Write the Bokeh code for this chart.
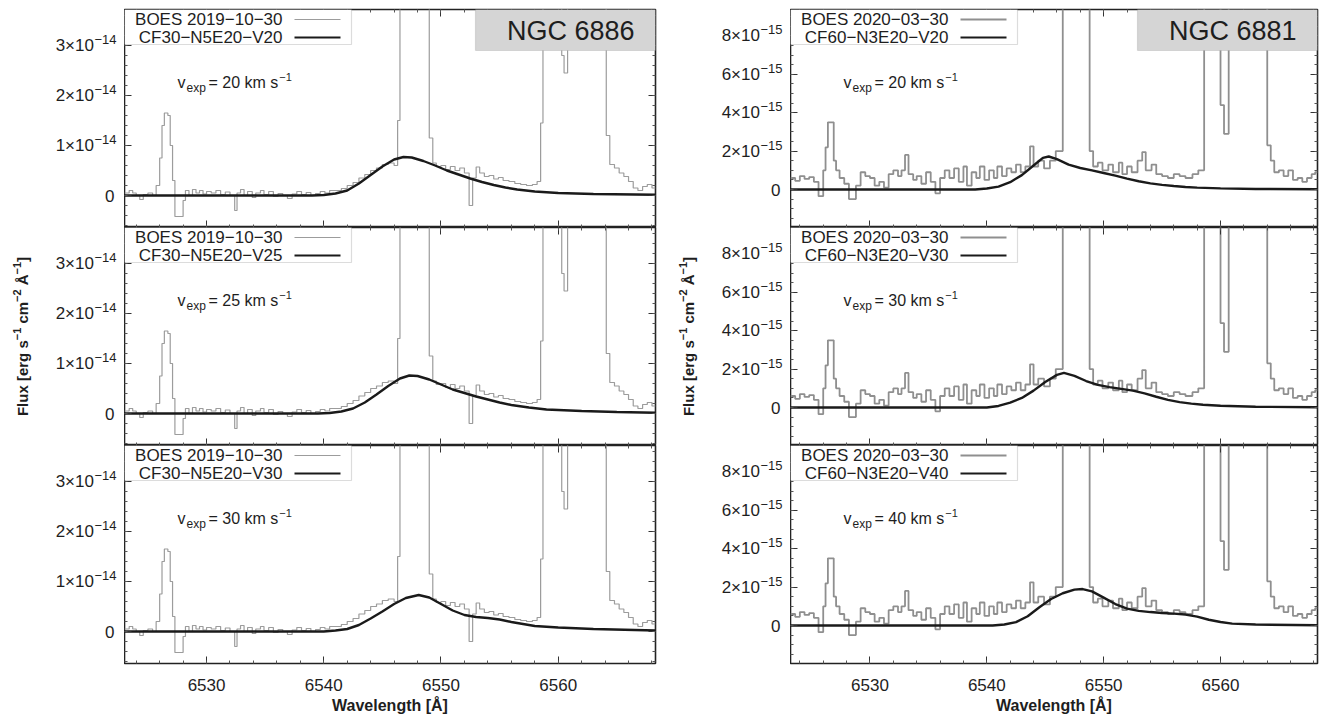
from bokeh.plotting import figure
from bokeh.models import (Range1d, LinearAxis, SingleIntervalTicker, CustomJSTickFormatter,
                          BoxAnnotation, Label, ColumnDataSource)
from bokeh.layouts import row, column
from bokeh.embed import file_html
from bokeh.resources import INLINE

# ---------------- data ----------------
# NGC 6886, BOES 2019-10-30 observed spectrum (step edges [A], flux in 1e-14 erg/s/cm2/A)
n6886_obs_wl = [6523.0, 6523.4, 6523.7, 6524.0, 6524.3, 6524.6, 6525.0, 6525.4, 6525.7, 6526.0,
                6526.2, 6526.4, 6526.7, 6526.9, 6527.1, 6527.3, 6527.7, 6528.0, 6528.2, 6528.5,
                6528.8, 6529.1, 6529.4, 6529.7, 6530.0, 6530.4, 6530.8, 6531.2, 6531.6, 6532.0,
                6532.4, 6532.6, 6532.9, 6533.2, 6533.5, 6533.9, 6534.2, 6534.6, 6534.9, 6535.3,
                6535.7, 6536.1, 6536.5, 6536.9, 6537.3, 6537.7, 6538.1, 6538.5, 6538.9, 6539.3,
                6539.7, 6540.1, 6540.5, 6541.0, 6541.5, 6542.0, 6542.5, 6543.0, 6543.5, 6544.0,
                6544.5, 6545.0, 6545.5, 6546.0, 6546.3, 6546.5, 6549.0, 6549.3, 6549.6, 6550.0,
                6550.4, 6550.8, 6551.2, 6551.6, 6552.0, 6552.4, 6552.7, 6553.0, 6553.3, 6553.7,
                6554.1, 6554.5, 6554.9, 6555.3, 6555.8, 6556.3, 6556.8, 6557.3, 6557.8, 6558.2,
                6558.5, 6558.7, 6560.3, 6560.5, 6560.8, 6564.1, 6564.4, 6564.8, 6565.2, 6565.6,
                6566.0, 6566.4, 6566.8, 6567.2, 6567.6, 6568.0, 6568.3]
n6886_obs_flux = [0.05, 0.10, 0.05, 0.0, -0.08, 0.02, 0.05, 0.0, 0.2, 0.75,
                  1.4, 1.65, 1.6, 1.0, 0.3, -0.42, -0.42, -0.1, 0.1, 0.0,
                  0.12, 0.05, 0.1, 0.03, 0.08, 0.05, 0.1, 0.02, 0.07, 0.0,
                  -0.3, 0.05, 0.12, 0.0, 0.08, -0.04, 0.05, 0.1, 0.02, 0.08,
                  -0.02, 0.04, 0.0, -0.06, 0.03, 0.08, 0.02, 0.06, 0.0, 0.04,
                  0.08, 0.05, 0.1, 0.1, 0.14, 0.2, 0.26, 0.35, 0.42, 0.5,
                  0.55, 0.62, 0.65, 0.6, 1.5, 50.0, 1.15, 0.65, 0.58, 0.6,
                  0.52, 0.58, 0.5, 0.55, 0.45, -0.2, 0.35, 0.57, 0.45, 0.38,
                  0.4, 0.33, 0.36, 0.3, 0.28, 0.24, 0.22, 0.2, 0.22, 0.28,
                  1.45, 50.0, 2.8, 2.45, 50.0, 1.2, 0.62, 0.55, 0.45, 0.38,
                  0.28, 0.15, 0.1, 0.18, 0.22, 0.15, 0.15]

# NGC 6886 models (flux in 1e-14)
n6886_v20_wl = [6523.0, 6539.0, 6540.0, 6541.0, 6542.0, 6543.0, 6544.0, 6545.0, 6546.0, 6546.8,
                6547.5, 6548.5, 6549.5, 6550.5, 6551.5, 6552.5, 6553.5, 6554.5, 6555.5, 6556.5,
                6558.0, 6560.0, 6563.0, 6568.3]
n6886_v20_flux = [0.0, 0.0, 0.01, 0.04, 0.1, 0.24, 0.41, 0.58, 0.72, 0.77,
                  0.76, 0.69, 0.6, 0.5, 0.42, 0.34, 0.27, 0.21, 0.16, 0.12,
                  0.08, 0.05, 0.03, 0.015]
n6886_v25_wl = [6523.0, 6539.5, 6540.5, 6541.5, 6542.5, 6543.5, 6544.5, 6545.5, 6546.5, 6547.3,
                6548.0, 6549.0, 6550.0, 6551.0, 6552.0, 6553.0, 6554.0, 6555.0, 6556.0, 6557.5,
                6559.0, 6562.0, 6565.0, 6568.3]
n6886_v25_flux = [0.0, 0.0, 0.01, 0.04, 0.1, 0.22, 0.38, 0.55, 0.7, 0.76,
                  0.75, 0.68, 0.58, 0.48, 0.41, 0.34, 0.28, 0.22, 0.17, 0.12,
                  0.08, 0.05, 0.03, 0.015]
n6886_v30_wl = [6523.0, 6540.0, 6541.0, 6542.0, 6543.0, 6544.0, 6545.0, 6546.0, 6547.0, 6548.1,
                6549.0, 6550.0, 6551.0, 6552.0, 6553.0, 6554.0, 6555.0, 6556.0, 6557.0, 6558.0,
                6560.0, 6563.0, 6568.3]
n6886_v30_flux = [0.0, 0.0, 0.02, 0.05, 0.13, 0.26, 0.4, 0.55, 0.67, 0.73,
                  0.68, 0.55, 0.42, 0.33, 0.29, 0.27, 0.24, 0.19, 0.15, 0.11,
                  0.08, 0.05, 0.02]

# NGC 6881, BOES 2020-03-30 observed spectrum (flux in 1e-15)
n6881_obs_wl = [6523.2, 6523.6, 6524.0, 6524.4, 6524.8, 6525.2, 6525.6, 6526.0, 6526.2, 6526.4,
                6526.9, 6527.1, 6527.4, 6527.8, 6528.2, 6528.8, 6529.2, 6529.6, 6530.0, 6530.4,
                6530.8, 6531.2, 6531.6, 6532.0, 6532.4, 6532.7, 6533.0, 6533.3, 6533.7, 6534.0,
                6534.4, 6534.8, 6535.2, 6535.6, 6536.0, 6536.4, 6536.8, 6537.2, 6537.6, 6538.0,
                6538.3, 6538.7, 6539.1, 6539.4, 6539.8, 6540.2, 6540.6, 6540.9, 6541.3, 6541.7,
                6542.1, 6542.5, 6542.9, 6543.3, 6543.7, 6544.0, 6544.4, 6544.9, 6545.4, 6545.9,
                6546.5, 6548.8, 6549.1, 6549.5, 6549.9, 6550.4, 6550.8, 6551.3, 6551.6, 6552.0,
                6552.4, 6552.9, 6553.3, 6553.6, 6554.1, 6554.5, 6555.0, 6555.5, 6556.0, 6556.5,
                6557.0, 6557.6, 6558.1, 6558.6, 6560.0, 6560.3, 6560.7, 6564.0, 6564.3, 6564.6,
                6565.0, 6565.4, 6565.8, 6566.2, 6566.6, 6567.0, 6567.4, 6567.8, 6568.1, 6568.3]
n6881_obs_flux = [0.6, 0.45, 0.7, 0.55, 0.65, 0.4, -0.35, 1.0, 2.2, 3.5,
                  1.5, 1.0, 0.6, 0.3, -0.5, 0.2, 0.9, 0.7, 0.6, 0.2,
                  0.4, 0.1, 0.8, 1.0, 0.7, 1.0, 1.8, 0.8, 0.5, 0.7,
                  0.3, 0.9, 0.4, -0.2, 0.6, 1.0, 0.6, 1.1, 0.4, 1.2,
                  0.2, 0.9, 0.6, 1.2, 0.5, 1.0, 0.6, 1.2, 0.7, 1.1,
                  0.9, 1.3, 0.9, 1.2, 2.25, 1.2, 1.5, 1.1, 1.5, 2.0,
                  50.0, 2.0, 1.2, 1.4, 1.0, 1.3, 0.9, 1.4, 0.8, 1.2,
                  0.9, 1.5, 1.95, 1.0, 1.3, 0.8, 0.7, 0.6, 0.8, 0.7,
                  0.6, 0.8, 1.0, 50.0, 4.4, 2.9, 50.0, 2.3, 1.5, 0.9,
                  1.0, 0.7, 1.0, 0.5, 0.6, 0.4, 0.6, 0.8, 0.9, 0.9]

# NGC 6881 models (flux in 1e-15)
n6881_v20_wl = [6523.2, 6539.0, 6540.0, 6541.0, 6542.0, 6543.0, 6544.0, 6544.8, 6545.3, 6546.0,
                6547.0, 6548.0, 6549.0, 6550.0, 6551.0, 6552.0, 6553.0, 6554.0, 6555.0, 6556.0,
                6557.0, 6558.0, 6560.0, 6563.0, 6568.3]
n6881_v20_flux = [0.0, 0.0, 0.05, 0.15, 0.38, 0.75, 1.25, 1.65, 1.72, 1.58,
                  1.3, 1.12, 1.0, 0.86, 0.72, 0.57, 0.43, 0.32, 0.24, 0.18,
                  0.13, 0.1, 0.06, 0.03, 0.01]
n6881_v30_wl = [6523.2, 6540.0, 6541.0, 6542.0, 6543.0, 6544.0, 6545.0, 6546.0, 6546.6, 6547.5,
                6548.5, 6549.5, 6550.5, 6551.5, 6552.5, 6553.5, 6554.5, 6555.5, 6556.5, 6557.5,
                6558.5, 6560.0, 6563.0, 6568.3]
n6881_v30_flux = [0.0, 0.0, 0.08, 0.25, 0.5, 0.88, 1.33, 1.7, 1.8, 1.65,
                  1.38, 1.18, 1.06, 0.97, 0.88, 0.74, 0.56, 0.4, 0.28, 0.2,
                  0.14, 0.09, 0.04, 0.01]
n6881_v40_wl = [6523.2, 6540.5, 6541.5, 6542.5, 6543.5, 6544.5, 6545.5, 6546.5, 6547.5, 6548.2,
                6549.0, 6550.0, 6551.0, 6552.0, 6553.0, 6554.0, 6555.0, 6556.0, 6557.0, 6558.0,
                6559.0, 6560.0, 6561.0, 6563.0, 6568.3]
n6881_v40_flux = [0.0, 0.0, 0.05, 0.18, 0.48, 0.95, 1.38, 1.68, 1.87, 1.9,
                  1.78, 1.45, 1.12, 0.88, 0.76, 0.7, 0.65, 0.62, 0.57, 0.46,
                  0.3, 0.18, 0.1, 0.05, 0.01]

obs_labels = ["BOES 2019\u221210\u221230", "BOES 2020\u221203\u221230"]
model_labels_6886 = ["CF30\u2212N5E20\u2212V20", "CF30\u2212N5E20\u2212V25", "CF30\u2212N5E20\u2212V30"]
model_labels_6881 = ["CF60\u2212N3E20\u2212V20", "CF60\u2212N3E20\u2212V30", "CF60\u2212N3E20\u2212V40"]
vexp_6886 = [20, 25, 30]
vexp_6881 = [20, 30, 40]
object_names = ["NGC 6886", "NGC 6881"]

# y tick labels: mantissas and exponent of each column
n6886_ytick_mant = [0, 1, 2, 3]
n6886_ytick_exp = -14
n6881_ytick_mant = [0, 2, 4, 6, 8]
n6881_ytick_exp = -15

# ---------------- styling ----------------
FONT = "Liberation Sans"
TXT = "#1e1e1e"
FH = 218
TICK_FS = 17
SUP_FS = 13
EM = {"0": .556, "1": .556, "2": .556, "3": .556, "4": .556, "5": .556, "6": .556,
      "7": .556, "8": .556, "9": .556, "\u2212": .584}


def tw(s, fs):
    return sum(EM.get(c, .556) for c in s) * fs


def style_axis(ax, labels):
    ax.axis_line_color = None
    ax.major_tick_in = 7
    ax.major_tick_out = 0
    ax.minor_tick_in = 3
    ax.minor_tick_out = 0
    ax.major_tick_line_color = "#333333"
    ax.minor_tick_line_color = "#555555"
    ax.major_tick_line_width = 1
    ax.minor_tick_line_width = 1
    ax.major_label_text_font = FONT
    ax.major_label_text_color = TXT
    if not labels:
        ax.formatter = CustomJSTickFormatter(code="return '';")
        ax.major_label_text_font_size = "0px"
        ax.major_label_standoff = 0
    else:
        ax.major_label_text_font_size = "%dpx" % TICK_FS


def slabel(p, x, y, text, fs, bold=False, align="left", yunits="screen", yoff=0, angle=0):
    p.add_layout(Label(x=x, y=y, x_units="screen", y_units=yunits, text=text,
                       text_font=FONT, text_font_size="%gpx" % fs, text_color=TXT,
                       text_font_style="bold" if bold else "normal",
                       text_align=align, text_baseline="middle", y_offset=yoff,
                       angle=angle, angle_units="deg"))


def make_axis_text(i, yr, scale, mants, expo, width):
    """Narrow figure holding the y tick labels (with true superscripts) and the Flux label."""
    is_top = (i == 0)
    p = figure(frame_width=width, frame_height=FH, x_range=Range1d(0, 1), y_range=yr,
               output_backend="svg", toolbar_location=None,
               x_axis_location=None, y_axis_location=None,
               min_border_left=0, min_border_right=0,
               min_border_top=9 if is_top else 0, min_border_bottom=0,
               background_fill_color="white", border_fill_color="white",
               outline_line_color=None)
    p.grid.visible = False
    sup = "\u2212%d" % abs(expo)
    xr = width - 8
    for m in mants:
        yv = m * scale
        if m == 0:
            slabel(p, xr - 2, yv, "0", TICK_FS, align="right", yunits="data")
        else:
            slabel(p, xr, yv, sup, SUP_FS, align="right", yunits="data", yoff=6)
            slabel(p, xr - tw(sup, SUP_FS) - 0.5, yv, "%d\u00d710" % m, TICK_FS,
                   align="right", yunits="data")
    if i == 1:
        fs, sfs = 15, 11
        # (text, is_superscript, advance, leading space)
        parts = [("Flux [erg s", False, 75.9, 0), ("\u22121", True, 12.5, 0), ("cm", False, 21.6, 4.2),
                 ("\u22122", True, 12.5, 0), ("\u00c5", False, 10.8, 4.2), ("\u22121", True, 12.5, 0),
                 ("]", False, 5.0, 0)]
        total = sum(pp[2] + pp[3] for pp in parts)
        yy = FH / 2 - total / 2
        xb = width - 102
        for txt, issup, adv, lead in parts:
            yy += lead
            if issup:
                slabel(p, xb - 6, yy, txt, sfs, bold=True, angle=90)
            else:
                slabel(p, xb, yy, txt, fs, bold=True, angle=90)
            yy += adv
    return p


def make_panel(colidx, i, xr, yr, yint, ynminor, scale, obs_wl, obs_flux, mod_wl, mod_flux,
               obs_label, mod_label, vexp, obs_color, obs_width, frame_w):
    is_top = (i == 0)
    is_bottom = (i == 2)
    p = figure(frame_width=frame_w, frame_height=FH, x_range=xr, y_range=yr,
               output_backend="svg", toolbar_location=None,
               min_border_left=0, min_border_right=2,
               min_border_top=9 if is_top else 0,
               min_border_bottom=40 if is_bottom else 0,
               background_fill_color="white", border_fill_color="white",
               outline_line_color="#222222", outline_line_width=1.6)
    p.grid.visible = False

    xt = SingleIntervalTicker(interval=10, num_minor_ticks=5)
    yt = SingleIntervalTicker(interval=yint, num_minor_ticks=ynminor)

    xa = p.xaxis[0]
    xa.ticker = xt
    style_axis(xa, is_bottom)
    if is_bottom:
        xa.major_label_standoff = 15
        xa.axis_label = "Wavelength [\u00c5]"
        xa.axis_label_text_font = FONT
        xa.axis_label_text_font_style = "bold"
        xa.axis_label_text_font_size = "16px"
        xa.axis_label_text_color = TXT
        xa.axis_label_standoff = 3

    ya = p.yaxis[0]
    ya.ticker = yt
    style_axis(ya, False)

    ra = LinearAxis(ticker=yt)
    style_axis(ra, False)
    p.add_layout(ra, "right")
    ta = LinearAxis(ticker=xt)
    style_axis(ta, False)
    p.add_layout(ta, "above")

    obs_src = ColumnDataSource(dict(x=obs_wl, y=[v * scale for v in obs_flux]))
    mod_src = ColumnDataSource(dict(x=mod_wl, y=[v * scale for v in mod_flux]))
    p.step("x", "y", source=obs_src, mode="after", line_color=obs_color, line_width=obs_width)
    p.line("x", "y", source=mod_src, line_color="#1a1a1a", line_width=2.4)

    # legend (gnuplot style: text then sample)
    p.add_layout(BoxAnnotation(left=0, right=227, top=FH, bottom=FH - 35,
                               left_units="screen", right_units="screen",
                               top_units="screen", bottom_units="screen",
                               fill_color="white", fill_alpha=1.0,
                               line_color="#8a8a8a", line_width=1.2))
    for k, (lab, colr, lw) in enumerate([(obs_label, obs_color, obs_width),
                                          (mod_label, "#1a1a1a", 2.2)]):
        yy = FH - 10 - 18 * k
        slabel(p, 158, yy, lab, 17, align="right")
        p.add_layout(BoxAnnotation(left=170, right=216, top=yy + lw / 2, bottom=yy - lw / 2,
                                   left_units="screen", right_units="screen",
                                   top_units="screen", bottom_units="screen",
                                   fill_color=colr, fill_alpha=1.0, line_color=None))

    # v_exp label with subscript / superscript
    yv = FH - 73
    slabel(p, 53, yv, "v", 16)
    slabel(p, 62, yv, "exp", 12, yoff=-5)
    slabel(p, 84, yv, "= %d km s" % vexp, 16)
    slabel(p, 84 + 69.8 + 1, yv, "\u22121", 11, yoff=6)

    if is_top:
        p.add_layout(BoxAnnotation(left=frame_w - 180, right=frame_w, top=FH, bottom=FH - 41,
                                   left_units="screen", right_units="screen",
                                   top_units="screen", bottom_units="screen",
                                   fill_color="#d5d5d5", fill_alpha=1.0,
                                   line_color="#9a9a9a", line_width=1.2))
        slabel(p, frame_w - 21, FH - 21, object_names[colidx], 27, align="right")
    return p


xr_l = Range1d(6523.0, 6568.3)
yr_l = Range1d(-0.64e-14, 3.72e-14)
xr_r = Range1d(6523.2, 6568.3)
yr_r = Range1d(-1.98e-15, 9.38e-15)

left_models = [(n6886_v20_wl, n6886_v20_flux), (n6886_v25_wl, n6886_v25_flux), (n6886_v30_wl, n6886_v30_flux)]
right_models = [(n6881_v20_wl, n6881_v20_flux), (n6881_v30_wl, n6881_v30_flux), (n6881_v40_wl, n6881_v40_flux)]

rows = []
for i in range(3):
    la = make_axis_text(i, yr_l, 1e-14, n6886_ytick_mant, n6886_ytick_exp, 124)
    lp = make_panel(0, i, xr_l, yr_l, 1e-14, 5, 1e-14, n6886_obs_wl, n6886_obs_flux,
                    left_models[i][0], left_models[i][1], obs_labels[0],
                    model_labels_6886[i], vexp_6886[i], "#9c9c9c", 1.2, 531)
    ra = make_axis_text(i, yr_r, 1e-15, n6881_ytick_mant, n6881_ytick_exp, 133)
    rp = make_panel(1, i, xr_r, yr_r, 2e-15, 4, 1e-15, n6881_obs_wl, n6881_obs_flux,
                    right_models[i][0], right_models[i][1], obs_labels[1],
                    model_labels_6881[i], vexp_6881[i], "#8f8f8f", 1.8, 527)
    rows.append(row(la, lp, ra, rp, spacing=0))

layout = column(*rows, spacing=0)
open("out.html", "w").write(file_html(layout, INLINE))
